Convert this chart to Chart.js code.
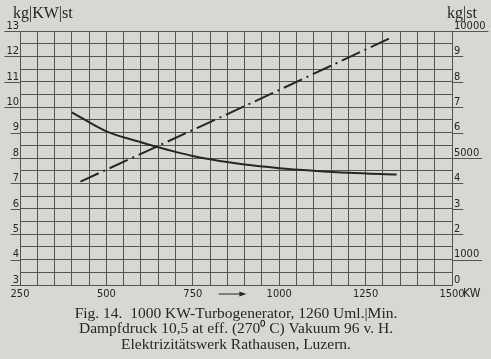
<!DOCTYPE html>
<html>
<head>
<meta charset="utf-8">
<script src="https://cdn.jsdelivr.net/npm/chart.js@4.4.0/dist/chart.umd.min.js"></script>
<style>
  html, body { margin: 0; padding: 0; background: #d7d7d3; }
  #wrap { width: 491px; height: 359px; }
</style>
</head>
<body>
<div id="wrap"><canvas id="chart" width="491" height="359"></canvas></div>
<script>
// consumption per KW-hour (left axis, kg|KW|st)
const kwSolid = [400, 500, 600, 650, 700, 750, 800, 900, 1000, 1100, 1200, 1340];
const kgPerKwSt = [9.8, 9.05, 8.62, 8.42, 8.24, 8.08, 7.95, 7.74, 7.6, 7.5, 7.42, 7.35];

// total steam per hour (right axis, kg|st)
const kwDash = [425, 887, 1330];
const kgPerSt = [4070, 6960, 9780];

const xLabels = [250, 500, 750, 1000, 1250, 1500];
const caption = [
  'Fig. 14.  1000 KW-Turbogenerator, 1260 Uml.|Min.',
  'Dampfdruck 10,5 at eff. (270\u2070 C) Vakuum 96 v. H.',
  'Elektrizitätswerk Rathausen, Luzern.'
];

const tickFont = { family: '"DejaVu Sans Condensed", "DejaVu Sans"', size: 11 };
const ink = '#262626';
const gridCol = '#555';

// paper background + extra text (axis headers, KW unit, arrow, label underlines)
const paper = {
  id: 'paper',
  beforeDraw(chart) {
    const c = chart.ctx;
    c.save();
    c.fillStyle = '#d7d7d3';
    c.fillRect(0, 0, chart.width, chart.height);
    c.restore();
  },
  afterDraw(chart) {
    const c = chart.ctx;
    const a = chart.chartArea;
    const x = chart.scales.x, yl = chart.scales.y, yr = chart.scales.y2;
    c.save();
    c.fillStyle = ink;
    c.font = '16px "Liberation Serif"';
    c.textBaseline = 'middle';
    c.textAlign = 'left';
    c.fillText('kg|KW|st', 13, 14);
    c.fillText('kg|st', 447, 14);

    c.font = '12px "DejaVu Sans Condensed", "DejaVu Sans"';
    c.fillText('KW', x.getPixelForValue(1500) + 11, x.top + 9);

    // underline the axis numbers
    c.font = '11px "DejaVu Sans Condensed", "DejaVu Sans"';
    c.strokeStyle = gridCol;
    c.lineWidth = 1;
    yl.ticks.forEach(t => {
      if (t.value % 1 !== 0) return;
      const py = Math.round(yl.getPixelForValue(t.value)) + 0.5;
      const w = c.measureText(String(t.value)).width;
      c.beginPath();
      c.moveTo(a.left, py);
      c.lineTo(a.left - w - 3, py);
      c.stroke();
    });
    yr.ticks.forEach(t => {
      if (t.value === 0) return;
      const py = Math.round(yr.getPixelForValue(t.value)) + 0.5;
      const w = c.measureText(String(t.label)).width;
      c.beginPath();
      c.moveTo(a.right, py);
      c.lineTo(a.right + w + 5, py);
      c.stroke();
    });

    // arrow between 750 and 1000
    const ay = x.top + 9;
    const ax1 = x.getPixelForValue(825), ax2 = x.getPixelForValue(905);
    c.strokeStyle = ink;
    c.beginPath();
    c.moveTo(ax1, ay);
    c.lineTo(ax2 - 4, ay);
    c.stroke();
    c.beginPath();
    c.moveTo(ax2, ay);
    c.lineTo(ax2 - 7, ay - 2.5);
    c.lineTo(ax2 - 7, ay + 2.5);
    c.closePath();
    c.fill();
    c.restore();
  }
};

var ctx = document.getElementById('chart').getContext('2d');
var myChart = new Chart(ctx, {
  type: 'line',
  data: {
    datasets: [
      {
        label: 'kg|KW|st',
        data: kwSolid.map((v, i) => ({ x: v, y: kgPerKwSt[i] })),
        yAxisID: 'y',
        borderColor: ink,
        borderWidth: 2,
        pointRadius: 0,
        cubicInterpolationMode: 'monotone'
      },
      {
        label: 'kg|st',
        data: kwDash.map((v, i) => ({ x: v, y: kgPerSt[i] })),
        yAxisID: 'y2',
        borderColor: ink,
        borderWidth: 2,
        borderDash: [20, 5, 2, 5],
        pointRadius: 0
      }
    ]
  },
  options: {
    responsive: false,
    animation: false,
    layout: { padding: { top: 31, bottom: 6.5, left: 0, right: 0 } },
    plugins: {
      legend: { display: false },
      tooltip: { enabled: false },
      title: {
        display: true,
        position: 'bottom',
        fullSize: false,
        text: caption,
        color: ink,
        font: { family: 'Liberation Serif', size: 15.5, weight: 'normal', lineHeight: 1.0 },
        padding: { top: 1, bottom: 0 }
      }
    },
    scales: {
      x: {
        type: 'linear',
        min: 250,
        max: 1500,
        afterFit(s) { s.height = 20; },
        grid: { color: gridCol, drawTicks: false },
        border: { color: gridCol },
        ticks: {
          stepSize: 50,
          autoSkip: false,
          maxRotation: 0,
          padding: 3,
          color: ink,
          font: tickFont,
          callback: v => xLabels.includes(v) ? String(v) : ''
        }
      },
      y: {
        position: 'left',
        min: 3,
        max: 13,
        afterFit(s) { s.width = 20; },
        grid: { color: gridCol, drawTicks: false },
        border: { color: gridCol },
        ticks: {
          stepSize: 0.5,
          autoSkip: false,
          padding: 1,
          labelOffset: -5,
          color: ink,
          font: tickFont,
          callback: v => v % 1 === 0 ? String(v) : ''
        }
      },
      y2: {
        position: 'right',
        min: 0,
        max: 10000,
        afterFit(s) { s.width = 39; },
        grid: { drawOnChartArea: false, drawTicks: false },
        border: { color: gridCol },
        ticks: {
          stepSize: 1000,
          autoSkip: false,
          padding: 2,
          labelOffset: -5,
          color: ink,
          font: tickFont,
          callback: v => (v === 0 || v === 1000 || v === 5000 || v === 10000) ? String(v) : String(v / 1000)
        }
      }
    }
  },
  plugins: [paper]
});
</script>
</body>
</html>
